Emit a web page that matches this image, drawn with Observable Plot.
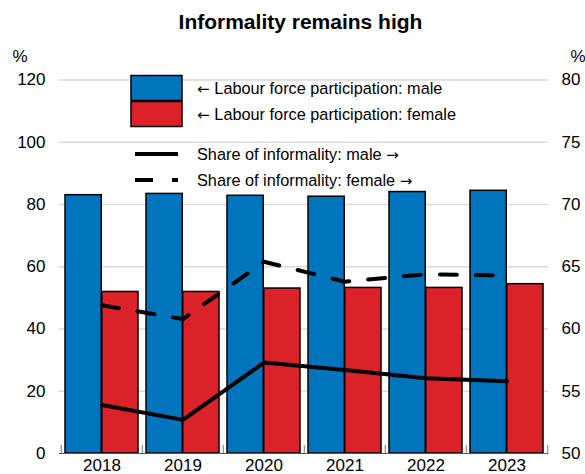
<!DOCTYPE html>
<html>
<head>
<meta charset="utf-8">
<script src="https://cdn.jsdelivr.net/npm/d3@7"></script>
<script src="https://cdn.jsdelivr.net/npm/@observablehq/plot@0.6"></script>
<style>
  html, body { margin: 0; padding: 0; background: #fff; }
  body { width: 585px; height: 474px; overflow: hidden; font-family: "Liberation Sans", Arial, sans-serif; }
  #wrap { position: relative; width: 585px; }
  #title { height: 40px; line-height: 44px; text-align: center; font-weight: bold; font-size: 21px; color: #000; padding-left: 16px; box-sizing: border-box; width: 585px; }
  #legend { position: absolute; left: 0; top: 0; pointer-events: none; }
</style>
</head>
<body>
<div id="wrap">
  <div id="title">Informality remains high</div>
  <div id="chart"></div>
  <svg id="legend" width="585" height="474"></svg>
</div>
<script>
const years = ["2018", "2019", "2020", "2021", "2022", "2023"];
const lfpMale = [83.0, 83.4, 82.8, 82.5, 84.0, 84.4];
const lfpFemale = [51.9, 51.9, 53.0, 53.2, 53.2, 54.4];
const informalMale = [53.9, 52.7, 57.3, 56.7, 56.05, 55.8];
const informalFemale = [61.9, 60.8, 65.4, 63.8, 64.4, 64.3];
const leftTicks = [0, 20, 40, 60, 80, 100, 120];
const rightTicks = [50, 55, 60, 65, 70, 75, 80];
const legendLabels = [
  {pre: "← ", text: "Labour force participation: male", post: ""},
  {pre: "← ", text: "Labour force participation: female", post: ""},
  {pre: "", text: "Share of informality: male ", post: "→"},
  {pre: "", text: "Share of informality: female ", post: "→"}
];

const blue = "#0075BE";
const red = "#DC2229";

// right axis (50–80) mapped onto left axis (0–120)
const toLeft = v => (v - 50) * 4;

const barsM = years.map((y, i) => ({year: y, v: lfpMale[i]}));
const barsF = years.map((y, i) => ({year: y, v: lfpFemale[i]}));
const lineM = years.map((y, i) => ({year: y, v: toLeft(informalMale[i])}));
const lineF = years.map((y, i) => ({year: y, v: toLeft(informalFemale[i])}));

const W = 585, H = 434;
const mL = 59, mR = 37, mT = 39.5, mB = 21;
const half = (W - mL - mR) / years.length / 2;

const chart = Plot.plot({
  width: W,
  height: H,
  marginLeft: mL,
  marginRight: mR,
  marginTop: mT,
  marginBottom: mB,
  style: {fontFamily: "Liberation Sans, Arial, sans-serif", fontSize: "17px", color: "#000", background: "#fff"},
  x: {type: "band", domain: years, paddingInner: 0, paddingOuter: 0},
  y: {domain: [0, 120]},
  marks: [
    Plot.ruleY(leftTicks.slice(1), {stroke: "#d9d9d9", strokeWidth: 1.5}),
    Plot.barY(barsM, {x: "year", y: "v", fill: blue, stroke: "#000", strokeWidth: 1.5, insetLeft: 4, insetRight: half}),
    Plot.barY(barsF, {x: "year", y: "v", fill: red, stroke: "#000", strokeWidth: 1.5, insetLeft: half, insetRight: 4}),
    Plot.lineY(lineF, {x: "year", y: "v", stroke: "#000", strokeWidth: 4, strokeDasharray: "17,19"}),
    Plot.lineY(lineM, {x: "year", y: "v", stroke: "#000", strokeWidth: 4}),
    Plot.ruleY([0], {stroke: "#555", strokeWidth: 1}),
    Plot.ruleX(years, {x: d => d, dx: -half, y1: 0, y2: 2.6, stroke: "#777", strokeWidth: 1}),
    Plot.ruleX(years.slice(-1), {x: d => d, dx: half, y1: 0, y2: 2.6, stroke: "#777", strokeWidth: 1}),
    Plot.axisY(leftTicks, {anchor: "left", tickSize: 0, tickPadding: 14, label: null, fontSize: 17}),
    Plot.axisY(leftTicks, {anchor: "right", tickSize: 0, tickPadding: 13, label: null, fontSize: 17,
      tickFormat: d => String(d / 4 + 50)}),
    Plot.axisX(years, {anchor: "bottom", tickSize: 0, tickPadding: 5, label: null, fontSize: 17}),
    Plot.text(["%"], {frameAnchor: "top-left", dx: -47, dy: -30, fontSize: 17, textAnchor: "start"}),
    Plot.text(["%"], {frameAnchor: "top-right", dx: 22, dy: -30, fontSize: 17, textAnchor: "start"})
  ]
});
document.getElementById("chart").appendChild(chart);

// legend overlay
const lg = d3.select("#legend");
const lx = 131, tx = 197;
lg.append("rect").attr("x", lx).attr("y", 75.5).attr("width", 51).attr("height", 25).attr("fill", blue).attr("stroke", "#000").attr("stroke-width", 1.5);
lg.append("rect").attr("x", lx).attr("y", 101.5).attr("width", 51).attr("height", 25).attr("fill", red).attr("stroke", "#000").attr("stroke-width", 1.5);
lg.append("line").attr("x1", 135).attr("x2", 178).attr("y1", 154).attr("y2", 154).attr("stroke", "#000").attr("stroke-width", 4);
lg.append("line").attr("x1", 135).attr("x2", 178).attr("y1", 180).attr("y2", 180).attr("stroke", "#000").attr("stroke-width", 4).attr("stroke-dasharray", "18,19");
const ys = [88, 114, 154, 180];
legendLabels.forEach((t, i) => {
  const el = lg.append("text").attr("x", tx).attr("y", ys[i]).attr("dy", "0.35em")
    .attr("font-family", "Liberation Sans, Arial, sans-serif").attr("font-size", 16.3).attr("fill", "#000");
  if (t.pre) el.append("tspan").attr("font-family", "DejaVu Sans").attr("font-size", 15).text(t.pre);
  el.append("tspan").text(t.text);
  if (t.post) el.append("tspan").attr("font-family", "DejaVu Sans").attr("font-size", 15).text(t.post);
});
</script>
</body>
</html>
